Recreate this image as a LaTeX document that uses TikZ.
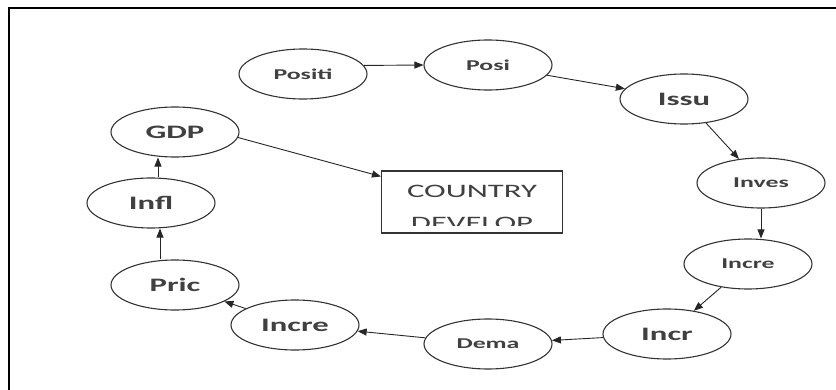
\documentclass[tikz,border=0pt]{standalone}
\usepackage{fontspec}
\setmainfont{Carlito}
\newfontfamily\widefont[FakeStretch=1.72]{Carlito}
\usetikzlibrary{shapes.geometric,arrows.meta}

\begin{document}
\begin{tikzpicture}[x=1pt,y=-1pt,
  oval/.style={draw=black!80,line width=1.1pt,ellipse,minimum width=128pt,minimum height=50pt,inner sep=0pt,text=black!75},
  small/.style={font=\widefont\bfseries\fontsize{15}{18}\selectfont},
  big/.style={font=\widefont\bfseries\fontsize{19}{23}\selectfont},
  boxtext/.style={font=\widefont\fontsize{19}{23}\selectfont,text=black!75,anchor=base,inner sep=0pt},
  arr/.style={draw=black!85,line width=0.9pt,-{Triangle[length=9pt,width=7pt]}}]
            \useasboundingbox (0,0) rectangle (836,390);
            \draw[line width=2.5pt] (9,390) -- (9,8) -- (836,8);
            \foreach \n/\x/\y/\s/\t in {positi/303/74/small/Positi, posi/488/65/small/Posi,
              issu/684/99/big/Issu, inves/761/183/small/Inves, increR/748/264/small/Incre,
              incr/667/334/big/Incr, dema/488/344/small/Dema, increL/295/325/big/Incre,
              pric/175/285/big/Pric, infl/151/203/big/Infl, gdp/175/132/big/GDP}
            \node[oval,\s] (\n) at (\x,\y) {\t};
            \node[draw=black!80,line width=1.1pt,minimum width=181pt,minimum height=62pt] (cd) at (472,202) {};
            \begin{scope}
            \clip ([yshift=8pt]cd.south west) rectangle (cd.north east);
            \node[boxtext] (cdtop) at ([yshift=4pt]cd.center) {COUNTRY};
            \node[boxtext] (cdbot) at ([yshift=-28pt]cd.center) {DEVELOP};
            \end{scope}
            \draw[arr] (positi.8) -- (posi.west);
            \foreach \a/\b in {posi/issu, issu/inves, increR/incr, incr/dema, dema/increL, increL/pric}
            \draw[arr] (\a) -- (\b);
            \draw[arr] (inves.south) -- (inves.south |- increR.north);
            \draw[arr] ([xshift=-15pt]pric.north) -- ([xshift=9pt]infl.south);
            \draw[arr] ([xshift=7pt]infl.north) -- ([xshift=-17pt]gdp.south);
            \draw[arr] (gdp.-5) -- ([yshift=-6pt]cd.north west);
        \end{tikzpicture}
\end{document}
